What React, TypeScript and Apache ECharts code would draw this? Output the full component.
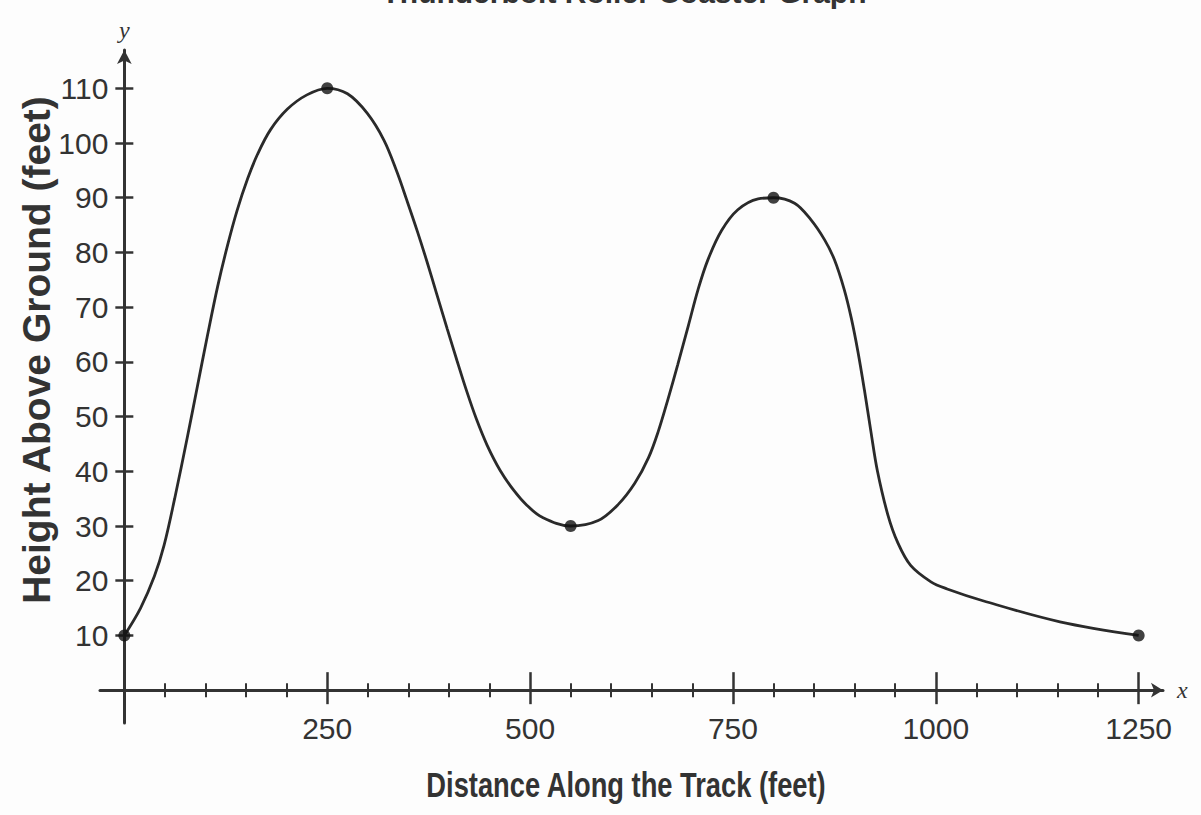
import React, { useEffect, useRef } from "react";
import * as echarts from "echarts";

// Traced track profile (distance in feet, height in feet)
const distance = [0, 20, 37, 49, 62, 78, 90, 102, 115, 127, 139, 152, 164, 180, 201, 225, 250, 275, 299, 320, 336, 348, 361, 373, 385, 398, 410, 422, 434, 447, 463, 480, 496, 515, 550, 584, 609, 629, 646, 658, 670, 682, 695, 707, 719, 736, 756, 781, 800, 826, 846, 863, 875, 887, 896, 904, 912, 920, 928, 941, 953, 969, 994, 1014, 1059, 1153, 1250];
const height = [10, 15, 20.8, 26.5, 35, 46.5, 55.5, 64.5, 73.8, 81.2, 87.7, 93.5, 97.9, 102.4, 106.2, 108.8, 110, 109, 105.5, 100.5, 94.7, 89.6, 83.9, 78.3, 72.4, 66, 60.2, 54.6, 49.5, 44.8, 40.2, 36.5, 33.8, 31.6, 30, 31, 34, 37.8, 42.5, 47.3, 53.2, 59.5, 66.6, 73.2, 78.6, 84, 87.8, 89.8, 90, 89, 86, 82.3, 78.7, 73.3, 67.9, 61.9, 54.9, 47.3, 40.1, 32, 27, 22.8, 19.8, 18.5, 16.3, 12.5, 10];

// Marked points
const keyDistance = [0, 250, 550, 800, 1250];
const keyHeight = [10, 110, 30, 90, 10];

// Ticks and labels
const xLabelValues = [250, 500, 750, 1000, 1250];
const xMajorTicks = [0, 250, 500, 750, 1000, 1250];
const xMinorTicks = [50, 100, 150, 200, 300, 350, 400, 450, 550, 600, 650, 700, 800, 850, 900, 950, 1050, 1100, 1150, 1200];
const yTickValues = [10, 20, 30, 40, 50, 60, 70, 80, 90, 100, 110];

const titleText = "Thunderbolt Roller Coaster Graph";
const xTitle = "Distance Along the Track (feet)";
const yTitle = "Height Above Ground (feet)";

const sansFont = "Liberation Sans, sans-serif";
const serifFont = "Liberation Serif, serif";
const axisColor = "#333";

export default function App() {
  const ref = useRef<HTMLDivElement>(null);

  useEffect(() => {
    if (!ref.current) return;
    const chart = echarts.init(ref.current, null, { renderer: "svg" });

    const X_MIN = -30, X_MAX = 1280, Y_MIN = -6, Y_MAX = 117;
    const gridLeft = 100, gridRight = 38, gridTop = 50, gridBottom = 92;
    const gridW = 1201 - gridLeft - gridRight;
    const gridH = 815 - gridTop - gridBottom;
    const xOffset = -((0 - Y_MIN) / (Y_MAX - Y_MIN)) * gridH; // lift x axes to y = 0
    const yOffset = -((0 - X_MIN) / (X_MAX - X_MIN)) * gridW; // push y axes to x = 0

    const baseX = {
      type: "value" as const,
      min: X_MIN,
      max: X_MAX,
      position: "bottom" as const,
      offset: xOffset,
      splitLine: { show: false },
      axisLine: { show: false, onZero: false },
      axisLabel: { show: false },
      axisTick: { show: false },
    };
    const baseY = {
      type: "value" as const,
      min: Y_MIN,
      max: Y_MAX,
      position: "left" as const,
      offset: yOffset,
      splitLine: { show: false },
      axisLine: { show: false, onZero: false },
      axisLabel: { show: false },
      axisTick: { show: false },
    };

    const option: any = {
      animation: false,
      backgroundColor: "#fdfdfd",
      grid: {
        left: gridLeft,
        right: gridRight,
        top: gridTop,
        bottom: gridBottom,
        containLabel: false,
        outerBoundsMode: "none",
      },
      xAxis: [
        {
          ...baseX,
          axisLine: {
            show: true,
            onZero: false,
            symbol: ["none", "arrow"],
            symbolSize: [11, 12],
            lineStyle: { color: axisColor, width: 3 },
          },
          axisLabel: {
            show: true,
            customValues: xLabelValues,
            formatter: (v: number) => String(v),
            fontFamily: sansFont,
            fontSize: 30,
            color: axisColor,
            margin: 23,
          },
          axisTick: {
            show: true,
            customValues: xMajorTicks,
            length: 14,
            lineStyle: { color: axisColor, width: 2.5 },
          },
          name: "x",
          nameLocation: "end",
          nameGap: 14,
          nameTextStyle: {
            fontFamily: serifFont,
            fontStyle: "italic",
            fontSize: 24,
            color: axisColor,
            verticalAlign: "middle",
          },
        },
        {
          ...baseX,
          axisTick: {
            show: true,
            inside: true,
            customValues: xMajorTicks,
            length: 18,
            lineStyle: { color: axisColor, width: 2.5 },
          },
        },
        {
          ...baseX,
          axisTick: {
            show: true,
            customValues: xMinorTicks,
            length: 7,
            lineStyle: { color: axisColor, width: 2 },
          },
        },
        {
          ...baseX,
          axisTick: {
            show: true,
            inside: true,
            customValues: xMinorTicks,
            length: 7,
            lineStyle: { color: axisColor, width: 2 },
          },
        },
      ],
      yAxis: [
        {
          ...baseY,
          axisLine: {
            show: true,
            onZero: false,
            symbol: ["none", "arrow"],
            symbolSize: [11, 14],
            lineStyle: { color: axisColor, width: 3 },
          },
          axisLabel: {
            show: true,
            customValues: yTickValues,
            fontFamily: sansFont,
            fontSize: 30,
            color: axisColor,
            margin: 16,
          },
          axisTick: {
            show: true,
            customValues: yTickValues,
            length: 9,
            lineStyle: { color: axisColor, width: 2.5 },
          },
          name: "y",
          nameLocation: "end",
          nameGap: 8,
          nameTextStyle: {
            fontFamily: serifFont,
            fontStyle: "italic",
            fontSize: 24,
            color: axisColor,
            align: "center",
          },
        },
        {
          ...baseY,
          axisTick: {
            show: true,
            inside: true,
            customValues: yTickValues,
            length: 9,
            lineStyle: { color: axisColor, width: 2.5 },
          },
        },
      ],
      graphic: [
        {
          type: "text",
          x: 624,
          y: 7,
          silent: true,
          style: {
            text: titleText,
            fontFamily: sansFont,
            fontWeight: "bold",
            fontSize: 30,
            fill: axisColor,
            align: "center",
            verticalAlign: "bottom",
          },
        },
        {
          type: "text",
          x: 626,
          y: 785,
          scaleX: 0.78,
          silent: true,
          style: {
            text: xTitle,
            fontFamily: sansFont,
            fontWeight: "bold",
            fontSize: 35,
            fill: axisColor,
            align: "center",
            verticalAlign: "middle",
          },
        },
        {
          type: "text",
          x: 36,
          y: 350,
          rotation: Math.PI / 2,
          silent: true,
          style: {
            text: yTitle,
            fontFamily: sansFont,
            fontWeight: "bold",
            fontSize: 39,
            fill: axisColor,
            align: "center",
            verticalAlign: "middle",
          },
        },
      ],
      series: [
        {
          name: "Track",
          type: "line",
          xAxisIndex: 0,
          yAxisIndex: 0,
          data: distance.map((d, i) => [d, height[i]]),
          smooth: 0.35,
          showSymbol: false,
          lineStyle: { color: "#2a2a2a", width: 2.8 },
          z: 3,
        },
        {
          name: "Key points",
          type: "scatter",
          xAxisIndex: 0,
          yAxisIndex: 0,
          data: keyDistance.map((d, i) => [d, keyHeight[i]]),
          symbol: "circle",
          symbolSize: 12,
          itemStyle: { color: "#111" },
          z: 4,
        },
      ],
    };

    chart.setOption(option);
    return () => chart.dispose();
  }, []);

  return (
    <div
      ref={ref}
      style={{ position: "fixed", left: 0, top: 0, width: 1201, height: 815, background: "#fdfdfd" }}
    />
  );
}
